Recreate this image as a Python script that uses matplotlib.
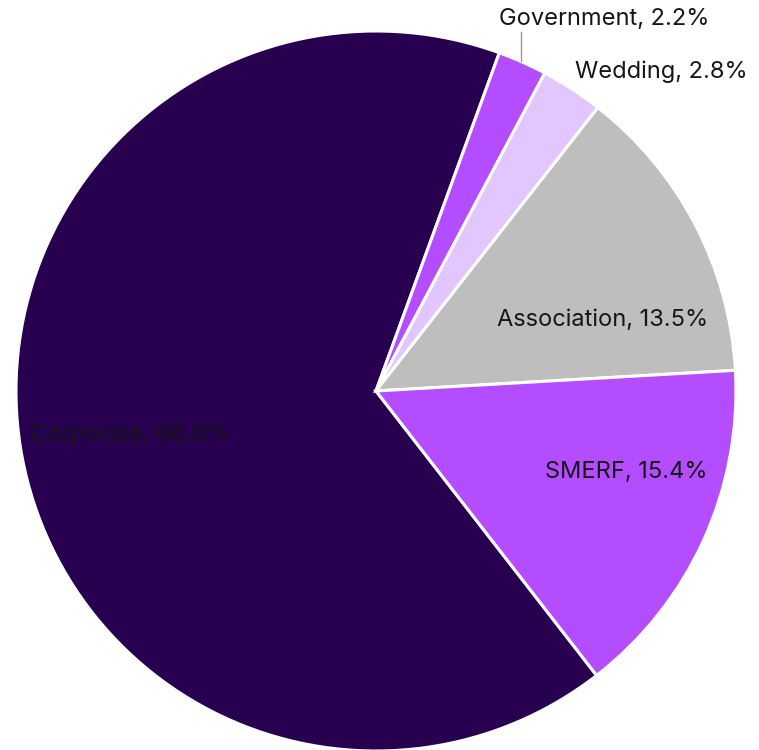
import matplotlib
matplotlib.use('Agg')
import matplotlib.pyplot as plt

# Data
segments = ['Corporate', 'Government', 'Wedding', 'Association', 'SMERF']
shares = [66.0, 2.2, 2.8, 13.5, 15.4]
colors = ['#280050', '#b44cff', '#e2c6ff', '#bebebe', '#b44cff']

plt.rcParams['font.family'] = ['Inter', 'DejaVu Sans']

fig = plt.figure(figsize=(7.59, 7.5), dpi=100)
# pie centre at (376, 391) px, radius 360 px
ax = fig.add_axes([16 / 759, (750 - 391 - 360) / 750, 720 / 759, 720 / 750])

wedges, _ = ax.pie(shares, colors=colors, startangle=-52.2, counterclock=False,
                   radius=1, wedgeprops=dict(edgecolor='white', linewidth=2.2))
ax.set_xlim(-1, 1)
ax.set_ylim(-1, 1)
ax.set_axis_off()

labels = [f'{s}, {v:.1f}%' for s, v in zip(segments, shares)]

# label layout (x, y in pie units, alignment)
layout = {
    'Corporate': (-0.961, -0.122, 'left'),
    'Government': (0.342, 1.032, 'left'),
    'Wedding': (0.553, 0.888, 'left'),
    'Association': (0.922, 0.197, 'right'),
    'SMERF': (0.922, -0.226, 'right'),
}
for seg, lab in zip(segments, labels):
    x, y, ha = layout[seg]
    ax.text(x, y, lab, ha=ha, va='center', fontsize=17, color='#161616', clip_on=False)

# leader line for the small Government slice
ax.plot([0.403, 0.403], [0.997, 0.917], color='#999999', lw=1, clip_on=False)

plt.savefig('out.png', dpi=100)
